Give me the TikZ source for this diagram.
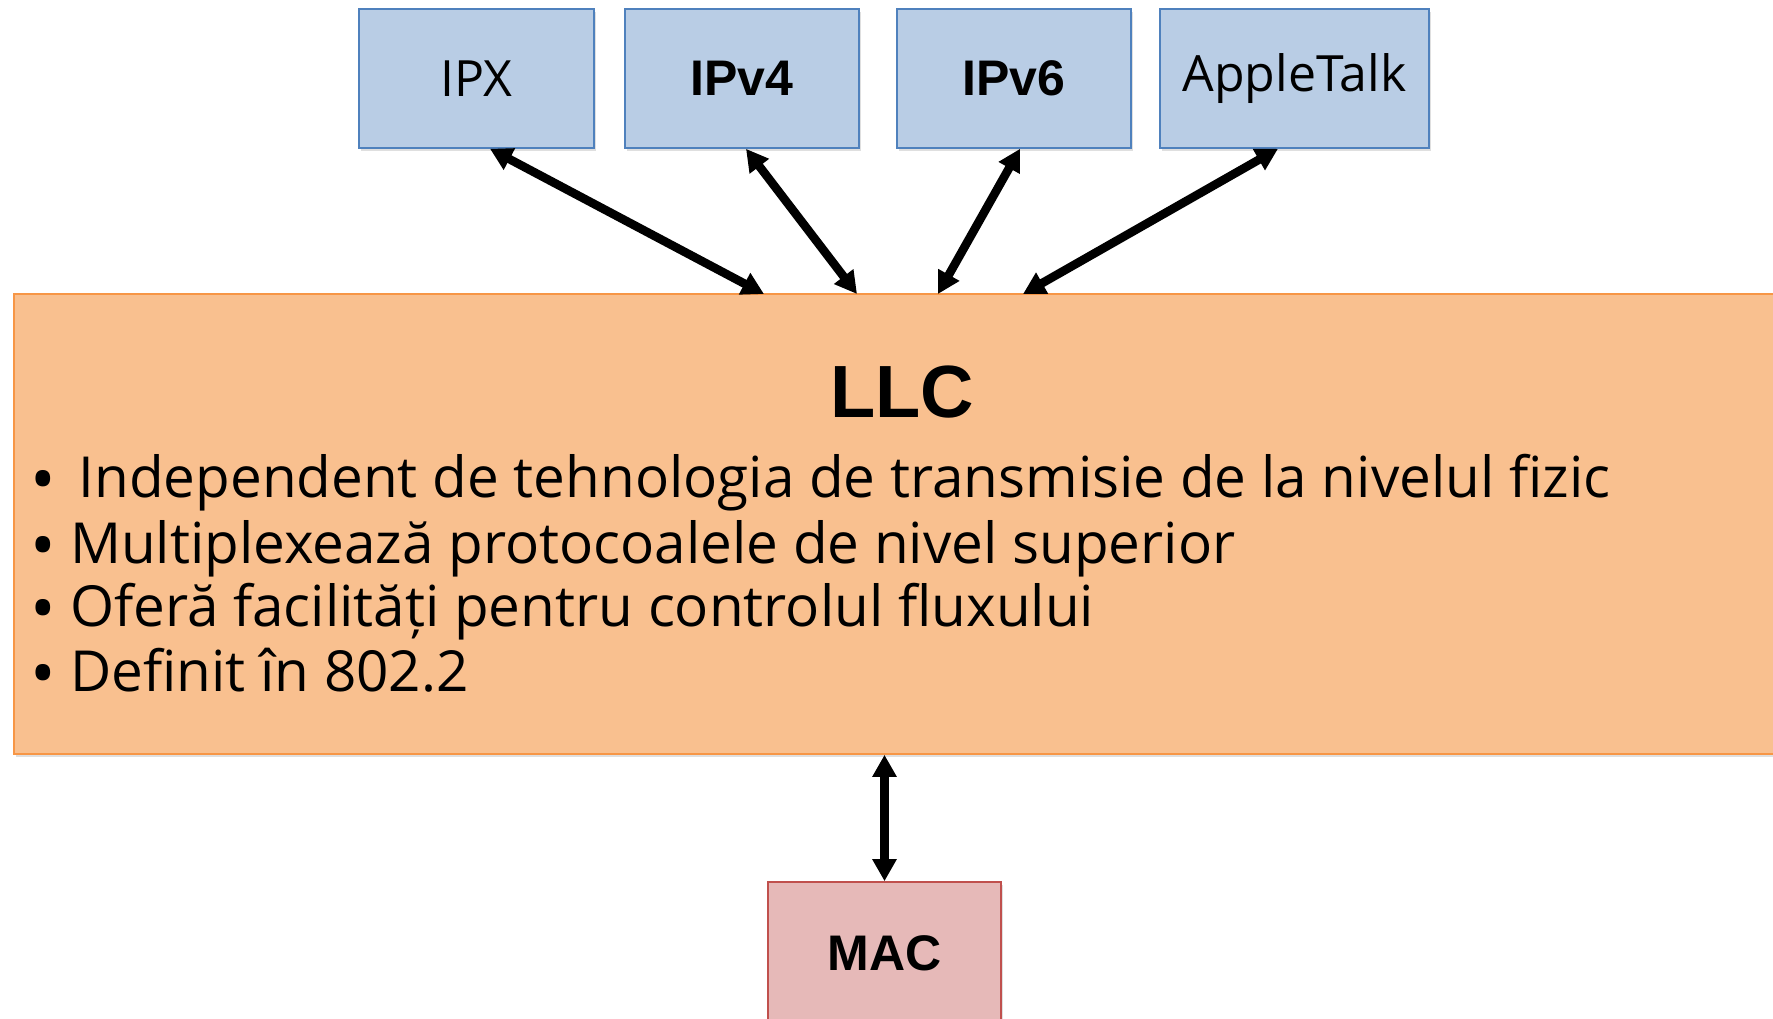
\documentclass[tikz,border=0pt]{standalone}
\usepackage{fontspec}
\setmainfont{Open Sans}[Ligatures=NoCommon]
\newfontfamily\arialfont{Liberation Sans}
\usepackage{tikz}
\usetikzlibrary{arrows.meta,calc,positioning,shadows}

\definecolor{protofill}{HTML}{B9CDE5}
\definecolor{protodraw}{HTML}{4F81BD}
\definecolor{llcfill}{HTML}{F9C08F}
\definecolor{llcdraw}{HTML}{F79646}
\definecolor{macfill}{HTML}{E6B9B8}
\definecolor{macdraw}{HTML}{C0504D}

\newcommand{\dotmark}{\raisebox{-0.12em}{\fontsize{34}{34}\selectfont•}}

\begin{document}
\begin{tikzpicture}[x=0.5pt,y=-0.5pt]
  \tikzstyle{boxshadow}=[drop shadow={opacity=0.25,shadow xshift=1pt,shadow yshift=-1.5pt}]
  \tikzstyle{proto}=[draw=protodraw,line width=0.8pt,fill=protofill,boxshadow,inner sep=0pt,minimum height=69.5pt,font=\fontsize{25}{30}\selectfont]
  \tikzstyle{bullet}=[anchor=base west,inner sep=0pt,font=\fontsize{28.3}{32}\selectfont]
  \tikzstyle{link}=[draw,line width=4.3pt,{Triangle[length=11pt,width=11.5pt]}-{Triangle[length=11pt,width=11.5pt]}]
  \useasboundingbox (0,0) rectangle (1773,1018);

  % upper protocols
  \node[proto,minimum width=117.5pt] (IPX)   at (476.5,78.5) {IPX};
  \node[proto,minimum width=117pt]   (IPv4)  at (742,78.5)   {\arialfont\bfseries IPv4};
  \node[proto,minimum width=117pt]   (IPv6)  at (1014,78.5)  {\arialfont\bfseries IPv6};
  \node[proto,minimum width=134.5pt] (Apple) at (1294.5,78.5) {AppleTalk};

  % LLC sublayer
  \node[draw=llcdraw,line width=0.8pt,fill=llcfill,boxshadow,inner sep=0pt,
        minimum width=888pt,minimum height=230pt] (LLC) at (902,524) {};
  \node[inner sep=0pt,font=\arialfont\bfseries\fontsize{37}{40}\selectfont] (title) at (902,392) {LLC};
  \node[bullet] (b1) at (30,497) {\dotmark\hspace{0.4em}Independent de tehnologia de transmisie de la nivelul fizic};
  \node[bullet] (b2) at (30,563) {\dotmark\hspace{0.25em}Multiplexează protocoalele de nivel superior};
  \node[bullet] (b3) at (30,626) {\dotmark\hspace{0.25em}Oferă facilități pentru controlul fluxului};
  \node[bullet] (b4) at (30,691) {\dotmark\hspace{0.25em}Definit în 802.2};

  % MAC sublayer
  \node[draw=macdraw,line width=0.8pt,fill=macfill,boxshadow,inner sep=0pt,
        minimum width=116.5pt,minimum height=71pt,
        font=\arialfont\bfseries\fontsize{25}{30}\selectfont] (MAC) at (884.5,953) {MAC};

  \coordinate (t1) at (764,294);
  \coordinate (t2) at (857,294);
  \coordinate (t3) at (938,294);
  \coordinate (t4) at (1023,294);

  \path
        ($(IPX.south)+(13.5,0)$)  edge[link] (t1)
        ($(IPv4.south)+(4,0)$)    edge[link] (t2)
        ($(IPv6.south)+(6,0)$)    edge[link] (t3)
        ($(Apple.south)+(-16.5,0)$) edge[link] (t4)
        (LLC.south -| MAC.north)  edge[link] (MAC.north);
\end{tikzpicture}
\end{document}
